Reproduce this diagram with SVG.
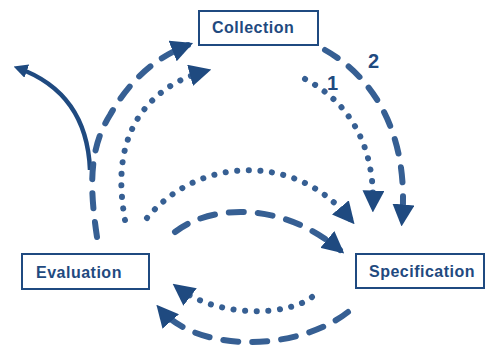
<svg xmlns="http://www.w3.org/2000/svg" width="486" height="347" viewBox="0 0 486 347">
<style>
.box{fill:#fff;stroke:#1f4a80;stroke-width:2}
.lbl{font-family:"Liberation Sans",Arial,sans-serif;font-weight:bold;font-size:16px;letter-spacing:0.5px;fill:#1f4a80}
.num{font-family:"Liberation Sans",Arial,sans-serif;font-weight:bold;font-size:20px;fill:#1f4a80}
.dash{fill:none;stroke:#365f93;stroke-width:6;stroke-linecap:round;stroke-dasharray:15 14}
.dot{fill:none;stroke:#365f93;stroke-width:6;stroke-linecap:round;stroke-dasharray:0.1 11.5}
.solid{fill:none;stroke:#1f4a80;stroke-width:4.5}
</style>
<defs>
<marker id="ah" markerUnits="userSpaceOnUse" markerWidth="22" markerHeight="22" viewBox="0 0 20 20" refX="15" refY="10" orient="auto">
<path d="M0,0 L20,10 L0,20 z" fill="#1f4a80"/>
</marker>
<marker id="ahs" markerUnits="userSpaceOnUse" markerWidth="14" markerHeight="14" viewBox="0 0 12 12" refX="8" refY="6" orient="auto">
<path d="M0,0 L12,6 L0,12 z" fill="#1f4a80"/>
</marker>
</defs>
<g id="connectors">
<path class="solid" d="M90 170 C88 120 65 85 18 68" marker-end="url(#ahs)"/>
<path class="dash" d="M97 237 C90 190 88 150 110 115 C130 80 155 58 188 45" marker-end="url(#ah)"/>
<path class="dot" d="M125 220 C118 180 120 145 140 115 C158 90 180 78 206 71" marker-end="url(#ah)"/>
<path class="dot" d="M147 218 C180 178 230 165 270 172 C305 178 330 195 351 220" marker-end="url(#ah)"/>
<path class="dash" d="M175 232 C210 205 280 200 340 250" marker-end="url(#ah)"/>
<path class="dot" d="M312 297 C290 315 220 320 177 287" marker-end="url(#ah)"/>
<path class="dash" d="M348 312 C300 350 200 355 160 309" marker-end="url(#ah)"/>
<path class="dot" d="M305 79 C345 100 375 140 373 207" marker-end="url(#ah)"/>
<path class="dash" d="M325 50 C370 75 410 130 402 221" marker-end="url(#ah)"/>
</g>
<g id="label-1"><text class="num" x="327" y="90">1</text></g>
<g id="label-2"><text class="num" x="368" y="68">2</text></g>
<g id="collection">
<rect class="box" x="199" y="11" width="119" height="34"/>
<text class="lbl" x="212" y="33">Collection</text>
</g>
<g id="evaluation">
<rect class="box" x="22" y="254" width="127" height="35"/>
<text class="lbl" x="36" y="278">Evaluation</text>
</g>
<g id="specification">
<rect class="box" x="356" y="254" width="128" height="34"/>
<text class="lbl" x="369" y="277">Specification</text>
</g>
</svg>
